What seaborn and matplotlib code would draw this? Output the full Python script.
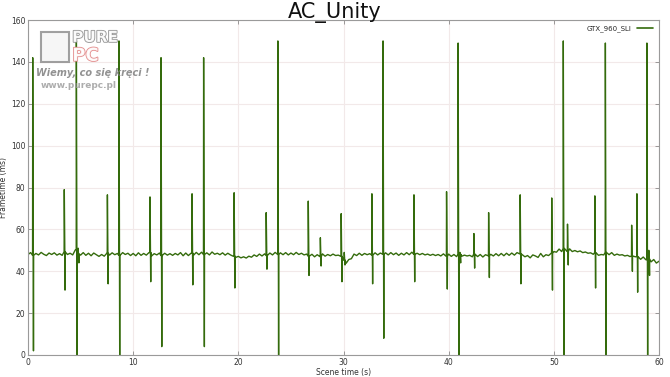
import numpy as np
import pandas as pd
import matplotlib
matplotlib.use("Agg")
import matplotlib.pyplot as plt
import matplotlib.patheffects as pe
from matplotlib.patches import Rectangle
import seaborn as sns

# ---------------- data ----------------
title = "AC_Unity"
series_name = "GTX_960_SLI"
x_label = "Scene time (s)"
y_label = "Frametime (ms)"
x_ticks = [0, 10, 20, 30, 40, 50, 60]
y_ticks = [0, 20, 40, 60, 80, 100, 120, 140, 160]

# baseline frametime sampled every 0.25 s (0 .. 60 s)
base_step = 0.25
base_values = [
    48.0, 48.9, 47.6, 48.5, 47.8, 49.0, 48.1, 47.5, 48.7, 48.0, 48.8, 47.7, 48.4, 47.6, 49.3, 48.0, 48.6, 47.8, 50.2, 48.3,
    47.7, 48.9, 47.6, 48.6, 47.4, 48.7, 47.9, 47.1, 48.0, 47.2, 48.6, 47.7, 48.8, 47.9, 48.5, 47.6, 48.9, 48.0, 48.6, 47.5,
    48.5, 47.4, 48.8, 47.6, 48.5, 47.7, 48.9, 47.3, 48.4, 47.8, 48.7, 47.5, 48.6, 47.7, 48.4, 47.6, 48.5, 47.8, 48.9, 47.4,
    48.7, 47.5, 48.6, 47.7, 49.0, 47.9, 49.1, 48.0, 48.8, 47.8, 49.2, 48.1, 48.6, 47.9, 48.8, 47.7, 48.6, 47.8, 47.2, 46.6,
    47.1, 46.4, 46.9, 46.3, 47.2, 46.7, 47.8, 47.1, 48.2, 47.3, 48.3, 47.5, 48.7, 47.8, 49.0, 48.0, 48.8, 47.9, 48.9, 47.8,
    48.7, 47.9, 49.0, 48.0, 48.6, 47.8, 48.2, 47.2, 48.1, 46.9, 47.9, 47.0, 48.3, 47.2, 48.0, 47.4, 48.2, 47.5, 47.7, 47.1,
    45.3, 43.8, 45.6, 46.0, 48.2, 47.5, 48.6, 47.6, 48.5, 47.9, 48.4, 47.7, 48.8, 47.8, 48.7, 48.1, 48.8, 47.8, 48.9, 47.9,
    48.7, 47.6, 48.6, 47.8, 48.9, 47.9, 49.1, 48.1, 48.6, 47.9, 48.5, 47.8, 48.2, 47.6, 48.1, 47.5, 48.0, 47.3, 48.3, 47.2,
    48.2, 47.1, 48.0, 47.0, 48.1, 47.2, 47.7, 47.3, 47.6, 46.9, 48.2, 47.0, 48.0, 46.8, 47.9, 47.4, 48.1, 47.3, 48.4, 47.4,
    48.5, 47.4, 48.6, 47.6, 48.7, 47.7, 48.9, 48.3, 47.9, 46.9, 47.5, 46.4, 47.8, 47.3, 46.6, 48.5, 46.9, 47.9, 47.5, 48.6,
    49.4, 49.1, 50.6, 49.4, 50.9, 49.5, 50.7, 49.4, 49.9, 49.3, 49.7, 48.9, 49.2, 48.6, 48.8, 48.1, 48.9, 47.6, 48.0, 47.8,
    49.0, 47.9, 48.9, 47.6, 48.2, 47.7, 47.9, 47.3, 47.6, 47.0, 47.3, 46.9, 47.0, 45.7, 46.8, 45.5, 45.8, 44.5, 45.6, 43.9,
    44.8,
]

# stutter spikes: time (s), peak frametime, following dip frametime
spike_times = [0.45, 3.45, 4.6, 4.77, 7.55, 8.65, 11.6, 12.65, 15.6, 16.7, 19.6,
               22.65, 23.76, 26.65, 27.8, 29.78, 30.07, 32.7, 33.76, 36.7, 39.8,
               40.9, 41.07, 42.4, 43.8, 46.8, 49.8, 50.9, 51.3, 53.9, 54.9,
               57.4, 57.9, 58.85, 59.03]
spike_peaks = [142, 79, 150, 51, 76.5, 150, 75.5, 142, 77, 142, 77.5,
               68, 150, 73.5, 56, 67.5, 49, 77, 150, 76.5, 78,
               149, 49, 58, 68, 76.5, 75, 150, 62.5, 76, 149,
               62, 77, 149, 50]
spike_dips = [2, 31, 0, 44, 34, 0, 35, 4, 33.5, 4, 32,
              41, 0, 38, 42.5, 35, 43, 34, 8, 35, 31.5,
              0, 44, 41.5, 37, 34, 31, 0, 43, 32, 0,
              40, 30, 0, 38]

# ---------------- assemble series ----------------
rows = []
for i, v in enumerate(base_values):
    rows.append((i * base_step, 0, v))
for t, p, d in zip(spike_times, spike_peaks, spike_dips):
    k = int(round(t / base_step))
    local = base_values[min(k, len(base_values) - 1)]
    rows.append((t - 0.015, 1, local))
    rows.append((t, 2, p))
    rows.append((t + 0.07, 3, d))
    rows.append((t + 0.085, 4, local))
rows.sort(key=lambda r: (r[0], r[1]))
df = pd.DataFrame(rows, columns=["time", "order", "frametime"])
df["series"] = series_name

# ---------------- plot ----------------
sns.set_theme(style="white")
plt.rcParams["font.family"] = ["DejaVu Sans"]

fig = plt.figure(figsize=(6.7, 3.77), dpi=100)
ax = fig.add_axes([28 / 670, 1 - 355 / 377, (659 - 28) / 670, (355 - 20) / 377])

line_color = "#346b0c"
sns.lineplot(data=df, x="time", y="frametime", hue="series", palette=[line_color],
             sort=False, estimator=None, linewidth=1.0, ax=ax)

ax.set_xlim(0, 60)
ax.set_ylim(0, 160)
ax.set_xticks(x_ticks)
ax.set_yticks(y_ticks)
ax.set_xticklabels([str(v) for v in x_ticks])
ax.set_yticklabels([str(v) for v in y_ticks])
ax.grid(True, color="#f2e9e9", linewidth=0.8)
ax.set_axisbelow(True)
for s in ax.spines.values():
    s.set_color("#9a9a9a")
    s.set_linewidth(0.8)
ax.tick_params(axis="both", which="both", direction="in", length=3, width=0.6,
               color="#8a8a8a", labelsize=5.5, labelcolor="#333333",
               top=True, right=True, bottom=True, left=True, pad=2.5)
ax.tick_params(axis="y", pad=2)

ax.set_xlabel(x_label, fontsize=5.5, color="#333333", labelpad=0.5)
ax.set_ylabel(y_label, fontsize=5.5, color="#333333")
ax.yaxis.set_label_coords(-0.031, 0.5)
fig.text(0.5, 0.995, title, ha="center", va="top", fontsize=15, color="#111111")

leg = ax.legend(loc="upper right", frameon=False, fontsize=5, handlelength=2.4,
                borderaxespad=0.4, markerfirst=False)
for h in leg.get_lines():
    h.set_linewidth(1.2)

# watermark (logo)
ax.add_patch(Rectangle((0.02, 0.875), 0.045, 0.09, transform=ax.transAxes,
                       facecolor="#f4f4f4", edgecolor="#8a8a8a", linewidth=1.5, alpha=0.8))
ax.text(0.07, 0.948, "PURE", transform=ax.transAxes, fontsize=11, fontweight="bold",
        color="white", alpha=0.9, ha="left", va="center",
        path_effects=[pe.withStroke(linewidth=1.2, foreground="#8a8a8a")])
ax.text(0.07, 0.893, "PC", transform=ax.transAxes, fontsize=13, fontweight="bold",
        color="white", alpha=0.9, ha="left", va="center",
        path_effects=[pe.withStroke(linewidth=1.2, foreground="#e08080")])
ax.text(0.013, 0.842, "Wiemy, co się kręci !", transform=ax.transAxes, fontsize=7,
        fontstyle="italic", fontweight="bold", color="#777777", alpha=0.8, ha="left", va="center")
ax.text(0.02, 0.804, "www.purepc.pl", transform=ax.transAxes, fontsize=6.5,
        fontweight="bold", color="#999999", alpha=0.8, ha="left", va="center")

fig.savefig("out.png", dpi=100)
